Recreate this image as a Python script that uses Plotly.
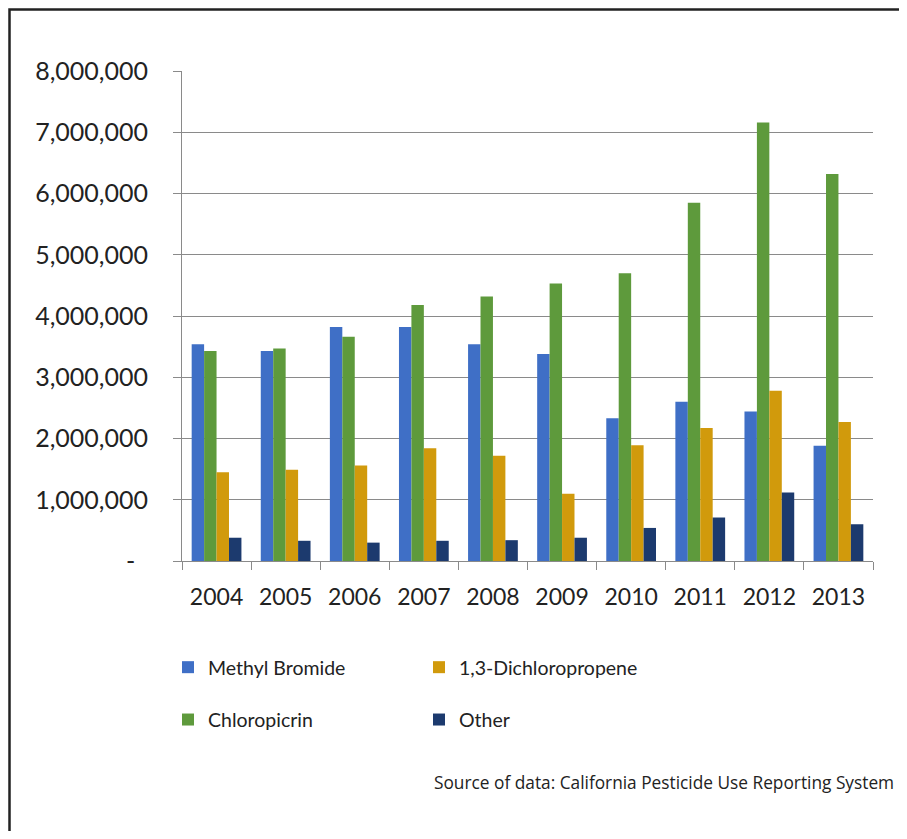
import plotly.graph_objects as go

years = ["2004", "2005", "2006", "2007", "2008", "2009", "2010", "2011", "2012", "2013"]
methyl_bromide = [3540000, 3430000, 3820000, 3820000, 3540000, 3380000, 2330000, 2600000, 2440000, 1880000]
chloropicrin = [3430000, 3470000, 3660000, 4180000, 4320000, 4530000, 4700000, 5850000, 7160000, 6320000]
dichloropropene = [1450000, 1490000, 1560000, 1840000, 1720000, 1100000, 1890000, 2170000, 2780000, 2270000]
other = [380000, 330000, 300000, 330000, 340000, 380000, 540000, 710000, 1120000, 600000]

y_tickvals = [0, 1000000, 2000000, 3000000, 4000000, 5000000, 6000000, 7000000, 8000000]
y_ticktext = ["-  ", "1,000,000", "2,000,000", "3,000,000", "4,000,000",
              "5,000,000", "6,000,000", "7,000,000", "8,000,000"]

OFF = 8  # page body margin offset
W, H = 907 - 2 * OFF, 839 - 2 * OFF
L, R, T, B = 182 - OFF, 873 - OFF, 71 - OFF, 561 - OFF
pw, ph = R - L, B - T

def px_x(x):
    return (x - OFF - L) / pw

def px_y(y):
    return (B - (y - OFF)) / ph

fig = go.Figure()
series = [
    ("Methyl Bromide", methyl_bromide, "#3f6fc6", "legend", 1),
    ("Chloropicrin", chloropicrin, "#5e9a3c", "legend", 2),
    ("1,3-Dichloropropene", dichloropropene, "#d19a0c", "legend2", 1),
    ("Other", other, "#1c3a6e", "legend2", 2),
]
for name, vals, color, lg, rank in series:
    fig.add_trace(go.Bar(
        x=years, y=vals, name=name, marker=dict(color=color, line=dict(width=0)),
        legend=lg, legendgroup=name, legendrank=rank,
    ))

font_main = "Lato, 'Open Sans', sans-serif"
fig.update_layout(
    width=W, height=H,
    margin=dict(l=L, r=W - R, t=T, b=H - B),
    paper_bgcolor="white", plot_bgcolor="white",
    barmode="group", bargap=0.28, bargroupgap=0,
    font=dict(family=font_main, color="#222222", size=22),
    xaxis=dict(
        type="category", showline=True, linecolor="#8a8a8a", linewidth=1,
        ticks="outside", tickson="boundaries", ticklen=8, tickcolor="#8a8a8a",
        tickfont=dict(size=23, color="#222222"), showgrid=False, ticklabelstandoff=15,
    ),
    yaxis=dict(
        range=[0, 8000000], tickvals=y_tickvals, ticktext=y_ticktext,
        showline=True, linecolor="#8a8a8a", linewidth=1,
        ticks="outside", ticklen=8, tickcolor="#8a8a8a",
        showgrid=True, gridcolor="#8a8a8a", gridwidth=1, zeroline=False,
        tickfont=dict(size=25, color="#222222"), ticklabelstandoff=20,
    ),
    legend=dict(
        orientation="v", x=px_x(168), xanchor="left", y=px_y(648), yanchor="top",
        font=dict(size=19.5, color="#222222"), tracegroupgap=24, bgcolor="rgba(0,0,0,0)",
    ),
    legend2=dict(
        orientation="v", x=px_x(419), xanchor="left", y=px_y(648), yanchor="top",
        font=dict(size=19.5, color="#222222"), tracegroupgap=24, bgcolor="rgba(0,0,0,0)",
    ),
    showlegend=True,
)

fig.add_annotation(
    text="Source of data: California Pesticide Use Reporting System",
    xref="paper", yref="paper", x=px_x(896), y=px_y(782),
    xanchor="right", yanchor="middle", showarrow=False,
    font=dict(family="'Open Sans', sans-serif", size=17.3, color="#222222"),
)

# outer frame: top and left edges (right/bottom lie beyond the picture)
xl, xr = px_x(9.5), px_x(940)
yt, yb = px_y(9.5), px_y(900)
fig.add_shape(
    type="path", xref="paper", yref="paper",
    path=f"M {xr} {yt} L {xl} {yt} L {xl} {yb}",
    line=dict(color="#222222", width=2.5), layer="above",
)

fig.write_html("out.html")
